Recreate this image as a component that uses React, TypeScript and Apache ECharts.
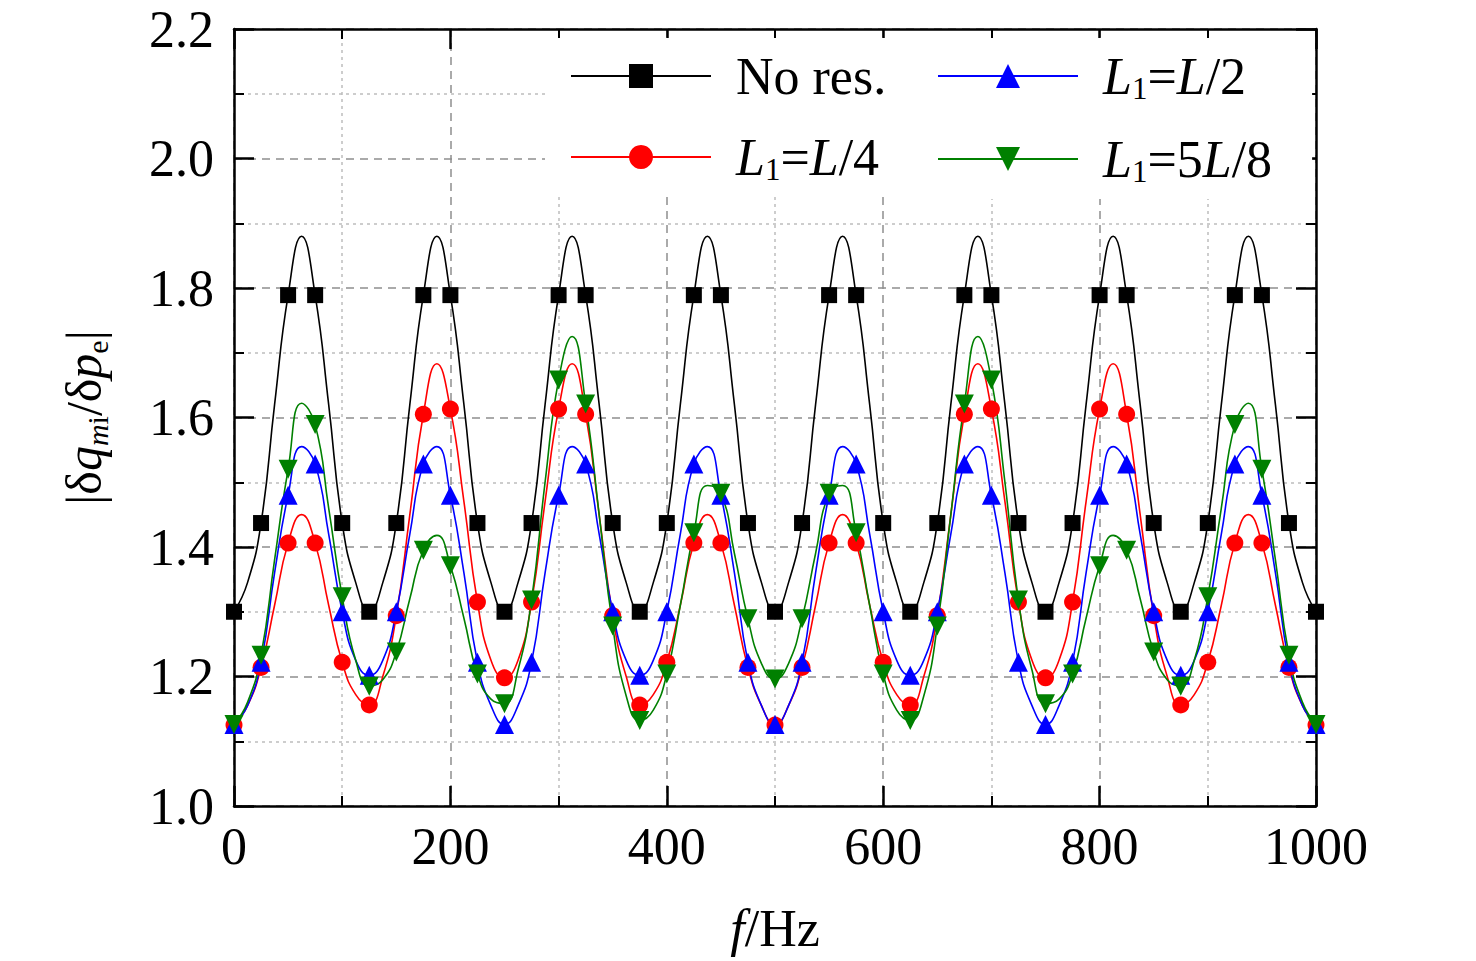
import React, { useEffect, useRef } from 'react';
import * as echarts from 'echarts';

// frequency grid of the curves (Hz); markers sit on every other point (25 Hz)
const freq = [
  0, 12.5, 25, 37.5, 50, 62.5, 75, 87.5, 100, 112.5,
  125, 137.5, 150, 162.5, 175, 187.5, 200, 212.5, 225, 237.5,
  250, 262.5, 275, 287.5, 300, 312.5, 325, 337.5, 350, 362.5,
  375, 387.5, 400, 412.5, 425, 437.5, 450, 462.5, 475, 487.5,
  500, 512.5, 525, 537.5, 550, 562.5, 575, 587.5, 600, 612.5,
  625, 637.5, 650, 662.5, 675, 687.5, 700, 712.5, 725, 737.5,
  750, 762.5, 775, 787.5, 800, 812.5, 825, 837.5, 850, 862.5,
  875, 887.5, 900, 912.5, 925, 937.5, 950, 962.5, 975, 987.5,
  1000,
];

const noRes = [
  1.30, 1.345, 1.437, 1.62, 1.789, 1.88, 1.789, 1.62, 1.437, 1.345,
  1.30, 1.345, 1.437, 1.62, 1.789, 1.88, 1.789, 1.62, 1.437, 1.345,
  1.30, 1.345, 1.437, 1.62, 1.789, 1.88, 1.789, 1.62, 1.437, 1.345,
  1.30, 1.345, 1.437, 1.62, 1.789, 1.88, 1.789, 1.62, 1.437, 1.345,
  1.30, 1.345, 1.437, 1.62, 1.789, 1.88, 1.789, 1.62, 1.437, 1.345,
  1.30, 1.345, 1.437, 1.62, 1.789, 1.88, 1.789, 1.62, 1.437, 1.345,
  1.30, 1.345, 1.437, 1.62, 1.789, 1.88, 1.789, 1.62, 1.437, 1.345,
  1.30, 1.345, 1.437, 1.62, 1.789, 1.88, 1.789, 1.62, 1.437, 1.345,
  1.30,
];

const quarter = [
  1.125, 1.155, 1.214, 1.31, 1.406, 1.45, 1.406, 1.31, 1.222, 1.172,
  1.156, 1.20, 1.294, 1.45, 1.605, 1.683, 1.613, 1.47, 1.315, 1.225,
  1.198, 1.225, 1.315, 1.47, 1.613, 1.683, 1.605, 1.45, 1.294, 1.20,
  1.156, 1.172, 1.222, 1.31, 1.406, 1.45, 1.406, 1.31, 1.214, 1.155,
  1.125, 1.155, 1.214, 1.31, 1.406, 1.45, 1.406, 1.31, 1.222, 1.172,
  1.156, 1.20, 1.294, 1.45, 1.605, 1.683, 1.613, 1.47, 1.315, 1.225,
  1.198, 1.225, 1.315, 1.47, 1.613, 1.683, 1.605, 1.45, 1.294, 1.20,
  1.156, 1.172, 1.222, 1.31, 1.406, 1.45, 1.406, 1.31, 1.214, 1.155,
  1.125,
];

const half = [
  1.126, 1.155, 1.222, 1.36, 1.48, 1.555, 1.528, 1.42, 1.30, 1.225,
  1.202, 1.225, 1.30, 1.42, 1.528, 1.555, 1.48, 1.36, 1.222, 1.155,
  1.126, 1.155, 1.222, 1.36, 1.48, 1.555, 1.528, 1.42, 1.30, 1.225,
  1.202, 1.225, 1.30, 1.42, 1.528, 1.555, 1.48, 1.36, 1.222, 1.155,
  1.126, 1.155, 1.222, 1.36, 1.48, 1.555, 1.528, 1.42, 1.30, 1.225,
  1.202, 1.225, 1.30, 1.42, 1.528, 1.555, 1.48, 1.36, 1.222, 1.155,
  1.126, 1.155, 1.222, 1.36, 1.48, 1.555, 1.528, 1.42, 1.30, 1.225,
  1.202, 1.225, 1.30, 1.42, 1.528, 1.555, 1.48, 1.36, 1.222, 1.155,
  1.126,
];

const fiveEighths = [
  1.126, 1.16, 1.233, 1.38, 1.52, 1.622, 1.589, 1.46, 1.323, 1.225,
  1.185, 1.195, 1.238, 1.32, 1.395, 1.418, 1.371, 1.29, 1.204, 1.165,
  1.158, 1.21, 1.318, 1.50, 1.658, 1.725, 1.621, 1.45, 1.278, 1.17,
  1.132, 1.148, 1.204, 1.31, 1.422, 1.495, 1.483, 1.39, 1.289, 1.22,
  1.196, 1.22, 1.289, 1.39, 1.483, 1.495, 1.422, 1.31, 1.204, 1.148,
  1.132, 1.17, 1.278, 1.45, 1.621, 1.725, 1.658, 1.50, 1.318, 1.21,
  1.158, 1.165, 1.204, 1.29, 1.371, 1.418, 1.395, 1.32, 1.238, 1.195,
  1.185, 1.225, 1.323, 1.46, 1.589, 1.622, 1.52, 1.38, 1.233, 1.16,
  1.126,
];

const seriesNames = ['No res.', 'L1=L/4', 'L1=L/2', 'L1=5L/8'];
const legendLabels: Record<string, string> = {
  'No res.': '{n|No res.}',
  'L1=L/4': '{i|L}{s|1}{n|=}{i|L}{n|/4}',
  'L1=L/2': '{i|L}{s|1}{n|=}{i|L}{n|/2}',
  'L1=5L/8': '{i|L}{s|1}{n|=5}{i|L}{n|/8}',
};

const serif = 'Liberation Serif';

export default function App() {
  const chartRef = useRef<HTMLDivElement>(null);

  useEffect(() => {
    const chart = echarts.init(chartRef.current, null, { renderer: 'svg' });

    const points = (vals: number[]) =>
      freq.map((f, i) => (i % 2 ? { value: [f, vals[i]], symbol: 'none' } : { value: [f, vals[i]] }));

    const makeLine = (name: string, vals: number[], color: string, symbol: string, size: number, rotate = 0) => ({
      name,
      type: 'line',
      smooth: 0.5,
      symbol,
      symbolSize: size,
      symbolRotate: rotate,
      showSymbol: true,
      showAllSymbol: true,
      itemStyle: { color },
      lineStyle: { color, width: 1.6 },
      data: points(vals),
    });

    const legendRich = {
      n: { fontFamily: serif, fontSize: 52, color: '#000', lineHeight: 56 },
      i: { fontFamily: serif, fontSize: 52, fontStyle: 'italic', color: '#000', lineHeight: 56 },
      s: { fontFamily: serif, fontSize: 31, color: '#000', lineHeight: 24, verticalAlign: 'bottom' },
    };

    const legendBase = {
      orient: 'vertical',
      itemWidth: 140,
      itemHeight: 30,
      itemGap: 29,
      selectedMode: false,
      backgroundColor: '#fff',
      formatter: (name: string) => legendLabels[name],
      textStyle: { padding: [0, 0, 0, 20], rich: legendRich },
    };

    const tickStyle = { color: '#000', width: 2.5 };
    const minorTickStyle = { color: '#000', width: 2 };

    const option = {
      animation: false,
      backgroundColor: '#fff',
      grid: { left: 234, top: 29, right: 160, bottom: 155 },
      legend: [
        { ...legendBase, data: ['No res.', 'L1=L/4'], left: 545, top: 38, padding: [12, 60, 12, 25] },
        { ...legendBase, data: ['L1=L/2', 'L1=5L/8'], left: 937, top: 38, padding: [12, 40, 12, 0] },
      ],
      xAxis: [
        {
          type: 'value',
          position: 'bottom',
          min: 0,
          max: 1000,
          interval: 200,
          axisLine: { show: true, onZero: false, lineStyle: tickStyle },
          axisTick: { show: true, inside: true, length: 20, lineStyle: tickStyle },
          minorTick: { show: true, splitNumber: 2, length: 10, lineStyle: minorTickStyle },
          axisLabel: {
            fontFamily: serif,
            fontSize: 52,
            color: '#000',
            margin: 14,
            formatter: (v: number) => String(v),
          },
          splitLine: { show: true, lineStyle: { color: '#8f8f8f', type: [8, 6], width: 1.5 } },
          minorSplitLine: { show: true, lineStyle: { color: '#bdbdbd', type: [3, 4], width: 1.5 } },
          name: '{i|f}{n|/Hz}',
          nameLocation: 'middle',
          nameGap: 96,
          nameTextStyle: {
            rich: {
              n: { fontFamily: serif, fontSize: 52, color: '#000' },
              i: { fontFamily: serif, fontSize: 52, fontStyle: 'italic', color: '#000' },
            },
          },
        },
        {
          type: 'value',
          position: 'top',
          min: 0,
          max: 1000,
          interval: 200,
          axisLine: { show: true, onZero: false, lineStyle: tickStyle },
          axisTick: { show: true, inside: true, length: 20, lineStyle: tickStyle },
          minorTick: { show: true, splitNumber: 2, length: 10, lineStyle: minorTickStyle },
          axisLabel: { show: false },
          splitLine: { show: false },
        },
      ],
      yAxis: [
        {
          type: 'value',
          position: 'left',
          min: 1.0,
          max: 2.2,
          interval: 0.2,
          axisLine: { show: true, onZero: false, lineStyle: tickStyle },
          axisTick: { show: true, inside: true, length: 20, lineStyle: tickStyle },
          minorTick: { show: true, splitNumber: 2, length: 10, lineStyle: minorTickStyle },
          axisLabel: {
            fontFamily: serif,
            fontSize: 52,
            color: '#000',
            margin: 20,
            formatter: (v: number) => v.toFixed(1),
          },
          splitLine: { show: true, lineStyle: { color: '#8f8f8f', type: [8, 6], width: 1.5 } },
          minorSplitLine: { show: true, lineStyle: { color: '#bdbdbd', type: [3, 4], width: 1.5 } },
          name: '{n||δ}{i|q}{si|m}{s|i}{n|/δ}{i|p}{s|e}{n||}',
          nameLocation: 'middle',
          nameGap: 122,
          nameTextStyle: {
            rich: {
              n: { fontFamily: serif, fontSize: 50, color: '#000', lineHeight: 56 },
              i: { fontFamily: serif, fontSize: 50, fontStyle: 'italic', color: '#000', lineHeight: 56 },
              si: { fontFamily: serif, fontSize: 30, fontStyle: 'italic', color: '#000', lineHeight: 30, verticalAlign: 'bottom' },
              s: { fontFamily: serif, fontSize: 30, color: '#000', lineHeight: 30, verticalAlign: 'bottom' },
            },
          },
        },
        {
          type: 'value',
          position: 'right',
          min: 1.0,
          max: 2.2,
          interval: 0.2,
          axisLine: { show: true, onZero: false, lineStyle: tickStyle },
          axisTick: { show: true, inside: true, length: 20, lineStyle: tickStyle },
          minorTick: { show: true, splitNumber: 2, length: 10, lineStyle: minorTickStyle },
          axisLabel: { show: false },
          splitLine: { show: false },
        },
      ],
      series: [
        makeLine(seriesNames[0], noRes, '#000000', 'rect', 16),
        makeLine(seriesNames[1], quarter, '#ff0000', 'circle', 17),
        makeLine(seriesNames[2], half, '#0000ff', 'triangle', 19),
        makeLine(seriesNames[3], fiveEighths, '#008000', 'triangle', 19, 180),
      ],
    };

    chart.setOption(option as any);

    return () => {
      chart.dispose();
    };
  }, []);

  return (
    <div
      ref={chartRef}
      style={{ position: 'fixed', left: 0, top: 0, width: '1476px', height: '961px', background: '#fff' }}
    />
  );
}
